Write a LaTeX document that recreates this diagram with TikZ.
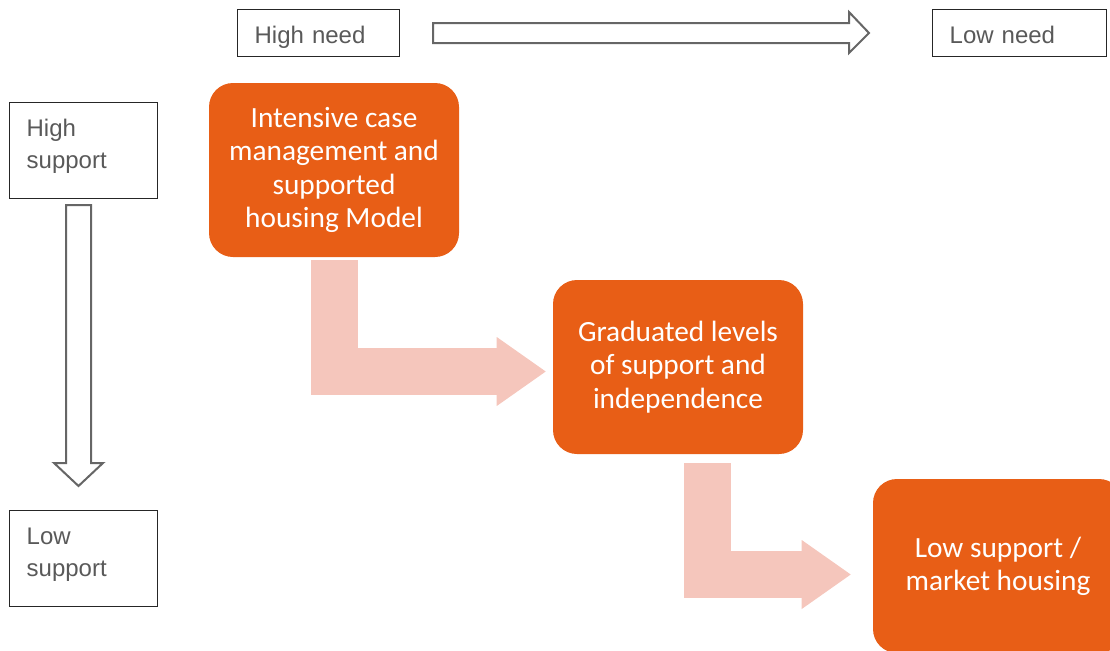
\documentclass[tikz,border=0pt]{standalone}
\usepackage{fontspec}
\usetikzlibrary{arrows.meta,calc}
\newfontfamily\tagfont{Liberation Sans}
\newfontfamily\stepfont{Carlito}
\definecolor{steporange}{RGB}{232,94,22}
\definecolor{steppink}{RGB}{245,198,188}
\definecolor{taggray}{RGB}{89,89,89}
\definecolor{tagline}{RGB}{38,38,38}
\definecolor{hollowgray}{RGB}{102,102,102}
\tikzset{
  tagbox/.style 2 args={draw=tagline, line width=1pt, anchor=north west, align=left,
    inner xsep=12.75pt, inner ysep=0pt, text width=#1, text height=25.1pt, text depth=#2,
    text=taggray, font=\tagfont\fontsize{18}{24}\selectfont},
  stepbox/.style={fill=steporange, rounded corners=18pt, minimum width=187.5pt,
    minimum height=130.5pt, align=center, text=white, font=\stepfont\fontsize{22}{25}\selectfont},
  bentarrow/.style={draw=steppink, line width=35.25pt,
    -{Triangle[length=36.75pt, width=51.75pt, line width=0pt]}},
  hollow/.style={draw=hollowgray, line width=1.5pt, fill=white, line join=miter}
}
\begin{document}
\begin{tikzpicture}[x=0.75pt,y=-0.75pt]
   \useasboundingbox (0,0) rectangle (1110,650);
   \clip (0,0) rectangle (1110,650);

   \node[tagbox={96pt}{10.15pt}] (hineed) at (237,9) {High need};
   \node[tagbox={105pt}{10.15pt}] (loneed) at (932,9) {Low need};
   \node[tagbox={85.5pt}{46.9pt}] (hisup) at (9,102) {High\\support};
   \node[tagbox={85.5pt}{46.9pt}] (losup) at (9,510) {Low\\support};

   \draw[hollow] (433,23) -- (849,23) -- (849,12) -- (869,33) -- (849,53) -- (849,43) -- (433,43) -- cycle;
   \draw[hollow] (66,205) -- (91,205) -- (91,463) -- (103,463) -- (78.5,486) -- (54,463) -- (66,463) -- cycle;

   \node[stepbox] (inten) at (334,170) {Intensive case\\management and\\supported\\housing Model};
   \node[stepbox] (grad) at (678,367) {Graduated levels\\of support and\\independence};
   \node[stepbox] (market) at (998,566) {Low support /\\market housing};

   \draw[bentarrow] ($(inten.south)+(0,3)$) |- ($(grad.west)+(-7,4.5)$);
   \draw[bentarrow] ($(grad.south)+(29,9)$) |- ($(market.west)+(-22,8.5)$);
 \end{tikzpicture}
\end{document}
